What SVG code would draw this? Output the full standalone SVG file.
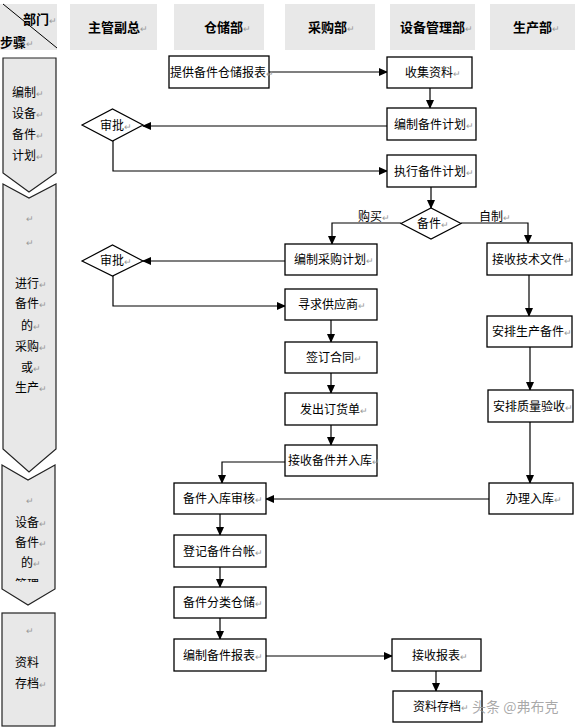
<svg xmlns="http://www.w3.org/2000/svg" width="575" height="728" viewBox="0 0 575 728">
<style>
text{font-family:"Noto Sans CJK SC","Liberation Sans",sans-serif;font-size:12px;fill:#000}
.h{font-size:13px;font-weight:bold}
.r{font-size:9px;fill:#999;font-weight:normal}
.hd{fill:#e8e8e8;stroke:none}
.pn{fill:#e8e8e8;stroke:#222;stroke-width:1.2}
.bx{fill:#fff;stroke:#000;stroke-width:1.3}
.dm{fill:#fff;stroke:#000;stroke-width:1.2}
.cn path{fill:none;stroke:#000;stroke-width:1.2}
.wm{font-size:14px;fill:#9a9a9a;fill-opacity:0.85}
</style>
<defs>
<marker id="ah" markerWidth="9" markerHeight="8" refX="8" refY="4" orient="auto" markerUnits="userSpaceOnUse">
<path d="M0,0 L9,4 L0,8 Z" fill="#000"/>
</marker>
<clipPath id="clp3"><rect x="0" y="560" width="60" height="22"/></clipPath>
</defs>

<g id="header">
<rect class="hd" x="0" y="4" width="57" height="46"/>
<line x1="3" y1="4" x2="57" y2="48" stroke="#000" stroke-width="1"/>
<text class="h" x="23" y="24">部门<tspan class="r">↵</tspan></text>
<text class="h" x="0" y="47">步骤<tspan class="r">↵</tspan></text>
<rect class="hd" x="70" y="4" width="87" height="46"/>
<text class="h" x="88" y="32">主管副总<tspan class="r">↵</tspan></text>
<rect class="hd" x="174" y="4" width="90" height="46"/>
<text class="h" x="204" y="32">仓储部<tspan class="r">↵</tspan></text>
<rect class="hd" x="285" y="4" width="90" height="46"/>
<text class="h" x="308" y="32">采购部<tspan class="r">↵</tspan></text>
<rect class="hd" x="390" y="4" width="85" height="46"/>
<text class="h" x="400" y="32">设备管理部<tspan class="r">↵</tspan></text>
<rect class="hd" x="490" y="4" width="85" height="46"/>
<text class="h" x="513" y="32">生产部<tspan class="r">↵</tspan></text>
</g>

<g id="step1">
<path class="pn" d="M3,58 H56 V173 L29,192 L3,173 Z"/>
<text x="12" y="97">编制<tspan class="r">↵</tspan></text>
<text x="12" y="118">设备<tspan class="r">↵</tspan></text>
<text x="12" y="139">备件<tspan class="r">↵</tspan></text>
<text x="12" y="160">计划<tspan class="r">↵</tspan></text>
</g>
<g id="step2">
<path class="pn" d="M3,184 L29,198 L56,184 V449 L29,472 L3,449 Z"/>
<text class="r" x="26" y="222">↵</text>
<text class="r" x="26" y="246">↵</text>
<text x="15" y="288">进行<tspan class="r">↵</tspan></text>
<text x="15" y="308">备件<tspan class="r">↵</tspan></text>
<text x="21" y="330">的<tspan class="r">↵</tspan></text>
<text x="15" y="351">采购<tspan class="r">↵</tspan></text>
<text x="21" y="372">或<tspan class="r">↵</tspan></text>
<text x="15" y="392">生产<tspan class="r">↵</tspan></text>
</g>
<g id="step3">
<path class="pn" d="M2,465 L28,480 L55,465 V589 L28,605 L2,589 Z"/>
<text class="r" x="26" y="504">↵</text>
<text x="15" y="527">设备<tspan class="r">↵</tspan></text>
<text x="15" y="547">备件<tspan class="r">↵</tspan></text>
<text x="21" y="567">的<tspan class="r">↵</tspan></text>
<text x="15" y="589" clip-path="url(#clp3)">管理</text>
</g>
<g id="step4">
<rect class="pn" x="2" y="613" width="53" height="113"/>
<text class="r" x="26" y="634">↵</text>
<text x="15" y="667">资料</text>
<text x="15" y="688">存档<tspan class="r">↵</tspan></text>
</g>

<g class="cn" id="connectors">
<path d="M269,72 H387" marker-end="url(#ah)"/>
<path d="M430,88 V108" marker-end="url(#ah)"/>
<path d="M387,126 H143" marker-end="url(#ah)"/>
<path d="M113,141 V171 H387" marker-end="url(#ah)"/>
<path d="M431,187 V208" marker-end="url(#ah)"/>
<path d="M401,223 H332 V244" marker-end="url(#ah)"/>
<path d="M461,223 H528 V243" marker-end="url(#ah)"/>
<path d="M285,261 H143" marker-end="url(#ah)"/>
<path d="M113,276 V306 H285" marker-end="url(#ah)"/>
<path d="M331,320 V342" marker-end="url(#ah)"/>
<path d="M331,373 V393" marker-end="url(#ah)"/>
<path d="M331,425 V445" marker-end="url(#ah)"/>
<path d="M285,462 H222 V483" marker-end="url(#ah)"/>
<path d="M529,275 V316" marker-end="url(#ah)"/>
<path d="M530,347 V390" marker-end="url(#ah)"/>
<path d="M530,422 V483" marker-end="url(#ah)"/>
<path d="M489,499 H266" marker-end="url(#ah)"/>
<path d="M220,514 V535" marker-end="url(#ah)"/>
<path d="M220,567 V587" marker-end="url(#ah)"/>
<path d="M220,618 V639" marker-end="url(#ah)"/>
<path d="M266,656 H392" marker-end="url(#ah)"/>
<path d="M436,671 V691" marker-end="url(#ah)"/>
</g>
<g id="labels">
<text x="358" y="221">购买<tspan class="r">↵</tspan></text>
<text x="479" y="221">自制<tspan class="r">↵</tspan></text>
</g>

<g id="n1"><rect class="bx" x="169" y="56" width="100" height="32"/><text x="170" y="77">提供备件仓储报表<tspan class="r">↵</tspan></text></g>
<g id="n2"><rect class="bx" x="387" y="57" width="85" height="31"/><text x="405" y="77">收集资料<tspan class="r">↵</tspan></text></g>
<g id="n3"><rect class="bx" x="387" y="108" width="89" height="32"/><text x="394" y="129">编制备件计划<tspan class="r">↵</tspan></text></g>
<g id="d1"><path class="dm" d="M82,125 L112.5,109 L143,125 L112.5,141 Z"/><text x="100" y="130">审批<tspan class="r">↵</tspan></text></g>
<g id="n4"><rect class="bx" x="387" y="155" width="89" height="32"/><text x="394" y="176">执行备件计划<tspan class="r">↵</tspan></text></g>
<g id="d2"><path class="dm" d="M401,223.5 L431,208 L461,223.5 L431,239 Z"/><text x="417" y="228">备件<tspan class="r">↵</tspan></text></g>
<g id="n5"><rect class="bx" x="285" y="244" width="92" height="31"/><text x="294" y="264">编制采购计划<tspan class="r">↵</tspan></text></g>
<g id="d3"><path class="dm" d="M82,261 L112.5,245 L143,261 L112.5,276 Z"/><text x="100" y="265">审批<tspan class="r">↵</tspan></text></g>
<g id="n6"><rect class="bx" x="285" y="289" width="92" height="31"/><text x="298" y="309">寻求供应商<tspan class="r">↵</tspan></text></g>
<g id="n7"><rect class="bx" x="285" y="342" width="92" height="31"/><text x="306" y="362">签订合同<tspan class="r">↵</tspan></text></g>
<g id="n8"><rect class="bx" x="285" y="393" width="92" height="32"/><text x="300" y="414">发出订货单<tspan class="r">↵</tspan></text></g>
<g id="n9"><rect class="bx" x="285" y="445" width="92" height="31"/><text x="288" y="465">接收备件并入库<tspan class="r">↵</tspan></text></g>
<g id="n10"><rect class="bx" x="487" y="243" width="85" height="32"/><text x="492" y="264">接收技术文件<tspan class="r">↵</tspan></text></g>
<g id="n11"><rect class="bx" x="487" y="316" width="85" height="31"/><text x="492" y="336">安排生产备件<tspan class="r">↵</tspan></text></g>
<g id="n12"><rect class="bx" x="488" y="390" width="85" height="32"/><text x="493" y="411">安排质量验收<tspan class="r">↵</tspan></text></g>
<g id="n13"><rect class="bx" x="489" y="483" width="84" height="31"/><text x="506" y="503">办理入库<tspan class="r">↵</tspan></text></g>
<g id="n14"><rect class="bx" x="174" y="483" width="92" height="31"/><text x="183" y="503">备件入库审核<tspan class="r">↵</tspan></text></g>
<g id="n15"><rect class="bx" x="174" y="535" width="92" height="32"/><text x="183" y="556">登记备件台帐<tspan class="r">↵</tspan></text></g>
<g id="n16"><rect class="bx" x="174" y="587" width="92" height="31"/><text x="183" y="607">备件分类仓储<tspan class="r">↵</tspan></text></g>
<g id="n17"><rect class="bx" x="174" y="639" width="92" height="32"/><text x="183" y="660">编制备件报表<tspan class="r">↵</tspan></text></g>
<g id="n18"><rect class="bx" x="392" y="639" width="89" height="32"/><text x="412" y="660">接收报表<tspan class="r">↵</tspan></text></g>
<g id="n19"><rect class="bx" x="393" y="691" width="89" height="31"/><text x="413" y="711">资料存档<tspan class="r">↵</tspan></text></g>

<text class="wm" x="472" y="712">头条 @弗布克</text>
</svg>
